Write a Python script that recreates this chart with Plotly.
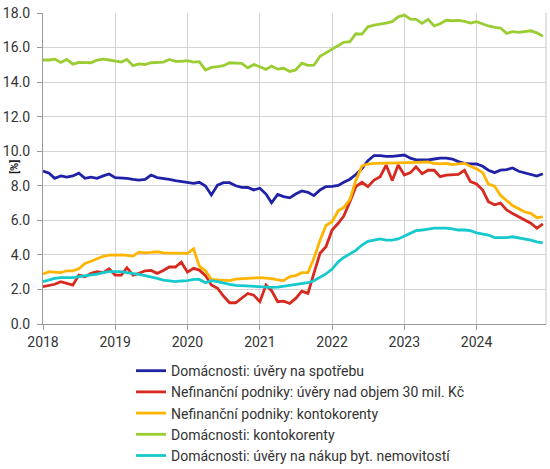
import pandas as pd
import plotly.graph_objects as go

months = pd.date_range("2018-01-01", "2024-12-01", freq="MS")

spotreba = [8.85, 8.73, 8.43, 8.57, 8.5, 8.57, 8.73, 8.43, 8.5, 8.43, 8.57, 8.68,
            8.47, 8.47, 8.43, 8.37, 8.33, 8.37, 8.62, 8.47, 8.43, 8.37, 8.3, 8.24,
            8.2, 8.14, 8.2, 7.99, 7.47, 8.04, 8.18, 8.18, 8.0, 7.91, 7.9, 7.76,
            7.86, 7.52, 7.02, 7.5, 7.37, 7.3, 7.52, 7.7, 7.62, 7.43, 7.76, 7.95,
            7.97, 8.02, 8.2, 8.38, 8.65, 9.0, 9.45, 9.75, 9.75, 9.7, 9.7, 9.73,
            9.78, 9.6, 9.5, 9.5, 9.5, 9.55, 9.6, 9.6, 9.55, 9.4, 9.3, 9.27,
            9.26, 9.13, 8.9, 8.76, 8.9, 8.94, 9.03, 8.84, 8.76, 8.66, 8.56, 8.7]

nad30 = [2.16, 2.25, 2.3, 2.45, 2.35, 2.25, 2.83, 2.74, 2.93, 3.03, 2.97, 3.2,
         2.83, 2.83, 3.26, 2.83, 2.93, 3.08, 3.1, 2.93, 3.1, 3.3, 3.3, 3.58,
         3.0, 3.22, 3.12, 2.8, 2.26, 2.07, 1.62, 1.23, 1.23, 1.48, 1.77, 1.67,
         1.29, 2.26, 1.93, 1.29, 1.32, 1.19, 1.48, 1.9, 1.77, 2.93, 4.09, 4.47,
         5.44, 5.83, 6.25, 7.08, 7.95, 8.2, 7.95, 8.33, 8.53, 9.2, 8.3, 9.2,
         8.62, 8.76, 9.1, 8.7, 8.9, 8.9, 8.53, 8.62, 8.66, 8.66, 8.9, 8.24,
         8.1, 7.75, 7.08, 6.9, 7.0, 6.6, 6.4, 6.2, 6.0, 5.83, 5.54, 5.8]

podniky_kk = [2.89, 3.03, 3.0, 2.97, 3.08, 3.08, 3.2, 3.5, 3.63, 3.78, 3.92, 3.99,
              4.0, 4.0, 3.97, 3.93, 4.16, 4.12, 4.14, 4.18, 4.12, 4.12, 4.12, 4.08,
              4.09, 4.35, 3.35, 3.08, 2.58, 2.55, 2.55, 2.51, 2.6, 2.62, 2.64, 2.7,
              2.68, 2.66, 2.63, 2.55, 2.51, 2.74, 2.8, 2.97, 2.97, 3.8, 4.85, 5.7,
              5.92, 6.55, 6.75, 7.2, 8.3, 9.15, 9.26, 9.3, 9.3, 9.3, 9.32, 9.33,
              9.33, 9.34, 9.35, 9.36, 9.38, 9.3, 9.27, 9.3, 9.23, 9.27, 9.3, 9.13,
              8.98, 8.76, 8.1, 7.98, 7.44, 7.15, 6.86, 6.67, 6.48, 6.4, 6.15, 6.2]

domacnosti_kk = [15.28, 15.28, 15.33, 15.14, 15.31, 15.04, 15.14, 15.14, 15.12, 15.28, 15.33, 15.28,
                 15.22, 15.16, 15.31, 14.95, 15.06, 15.02, 15.12, 15.16, 15.16, 15.31, 15.2, 15.2,
                 15.24, 15.16, 15.18, 14.7, 14.85, 14.89, 14.95, 15.12, 15.12, 15.08, 14.83, 15.02,
                 14.89, 14.74, 14.93, 14.75, 14.8, 14.62, 14.7, 15.1, 14.97, 14.98, 15.5, 15.7,
                 15.9, 16.08, 16.3, 16.34, 16.8, 16.78, 17.2, 17.3, 17.35, 17.42, 17.5, 17.78,
                 17.88, 17.65, 17.63, 17.4, 17.63, 17.25, 17.38, 17.58, 17.55, 17.57, 17.52, 17.42,
                 17.5, 17.35, 17.25, 17.17, 17.13, 16.82, 16.92, 16.88, 16.93, 16.97, 16.85, 16.65]

bydleni = [2.45, 2.54, 2.64, 2.68, 2.68, 2.68, 2.74, 2.78, 2.83, 2.89, 2.97, 3.03,
           3.03, 3.03, 2.97, 2.93, 2.87, 2.8, 2.74, 2.64, 2.54, 2.49, 2.45, 2.49,
           2.51, 2.58, 2.58, 2.39, 2.51, 2.45, 2.36, 2.3, 2.24, 2.22, 2.18, 2.14,
           2.14, 2.12, 2.12, 2.14, 2.18, 2.24, 2.28, 2.33, 2.39, 2.5, 2.68, 2.9,
           3.18, 3.6, 3.85, 4.05, 4.26, 4.57, 4.78, 4.86, 4.92, 4.86, 4.86, 4.92,
           5.09, 5.28, 5.4, 5.44, 5.5, 5.55, 5.55, 5.55, 5.5, 5.44, 5.44, 5.4,
           5.28, 5.2, 5.15, 5.0, 5.0, 5.0, 5.05, 5.0, 4.94, 4.86, 4.76, 4.7]

series = [
    ("Domácnosti: úvěry na spotřebu", spotreba, "#1f22a6"),
    ("Nefinanční podniky: úvěry nad objem 30 mil. Kč", nad30, "#d7291f"),
    ("Nefinanční podniky: kontokorenty", podniky_kk, "#ffb400"),
    ("Domácnosti: kontokorenty", domacnosti_kk, "#9acd32"),
    ("Domácnosti: úvěry na nákup byt. nemovitostí", bydleni, "#15c9cc"),
]

FONT = "Roboto, Liberation Sans, sans-serif"

fig = go.Figure()
for name, vals, col in series:
    fig.add_trace(go.Scatter(x=months, y=vals, name=name, mode="lines",
                             line=dict(color=col, width=2.8)))

fig.update_layout(
    width=550, height=469,
    margin=dict(l=43, r=4, t=13, b=145, autoexpand=False),
    paper_bgcolor="white", plot_bgcolor="white",
    font=dict(family=FONT, size=14, color="#333333"),
    legend=dict(x=0.175, xanchor="left", y=-0.1, yanchor="top",
                font=dict(size=14, color="#333333"), tracegroupgap=0),
)
fig.update_xaxes(
    type="date", range=["2018-01-01", "2024-12-17"],
    dtick="M12", tickformat="%Y", tick0="2018-01-01",
    showgrid=True, gridcolor="#d3d3d3", gridwidth=1.3,
    showline=True, linecolor="#9a9a9a", linewidth=1.2,
    ticks="outside", ticklen=5, tickcolor="#9a9a9a",
    automargin=False,
)
fig.update_yaxes(
    range=[0, 18], dtick=2, tickformat=".1f",
    showgrid=True, gridcolor="#d3d3d3", gridwidth=1.3,
    showline=True, linecolor="#9a9a9a", linewidth=1.2,
    ticks="outside", ticklen=5, tickcolor="#9a9a9a",
    ticklabelstandoff=4,
    zeroline=False, automargin=False,
)
# y-axis title sits inside the tick label column, as in the original
fig.add_annotation(text="<b>[%]</b>", xref="paper", yref="paper",
                   x=-0.0557, y=0.505, xanchor="center", yanchor="middle",
                   textangle=-90, showarrow=False,
                   font=dict(size=11, color="#222222"))
fig.add_shape(type="line", xref="paper", yref="paper", x0=1, x1=1, y0=0, y1=1,
              line=dict(color="#d3d3d3", width=1.3))

# drop the browser's default 8px body margin so the figure sits at the page corner
fig.write_html("out.html", config={"displayModeBar": False},
               post_script="document.body.style.margin='0';")
